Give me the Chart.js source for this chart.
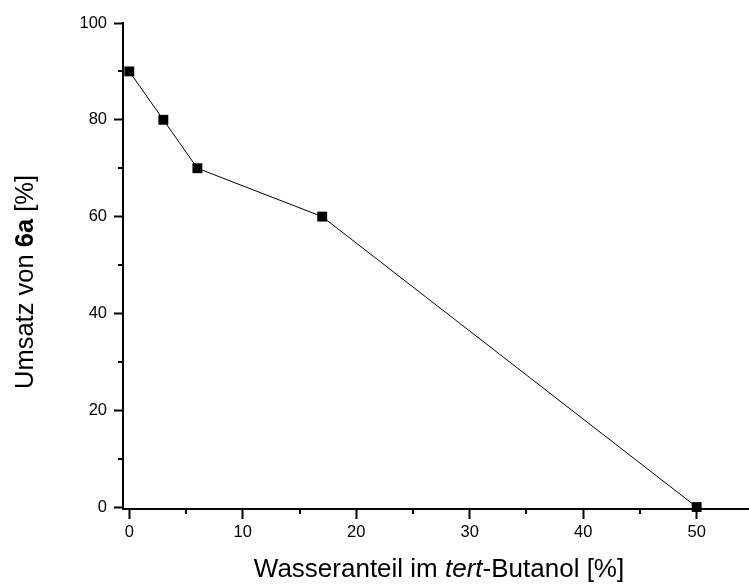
<!DOCTYPE html>
<html>
<head>
<meta charset="utf-8">
<script src="https://cdn.jsdelivr.net/npm/chart.js@4"></script>
<style>
html,body{margin:0;padding:0;background:#fff;}
#wrap{width:749px;height:586px;position:relative;}
</style>
</head>
<body>
<div id="wrap"><canvas id="c" width="749" height="586"></canvas></div>
<script>
// Data
const waterShare = [0, 3, 6, 17, 50];        // Wasseranteil im tert-Butanol [%]
const conversion = [90, 80, 70, 60, 0];      // Umsatz von 6a [%]
const xMajorTicks = [0, 10, 20, 30, 40, 50];
const xMinorTicks = [5, 15, 25, 35, 45];
const yMajorTicks = [0, 20, 40, 60, 80, 100];
const yMinorTicks = [10, 30, 50, 70, 90];
const xTitleParts = [["Wasseranteil im ", "normal"], ["tert", "italic"], ["-Butanol [%]", "normal"]];
const yTitleParts = [["Umsatz von ", "normal"], ["6a", "bold"], [" [%]", "normal"]];

const FONT = "'Liberation Sans', Arial, sans-serif";

function drawParts(ctx, parts, size) {
  let widths = parts.map(p => {
    ctx.font = (p[1] === 'italic' ? 'italic ' : p[1] === 'bold' ? 'bold ' : '') + size + 'px ' + FONT;
    return ctx.measureText(p[0]).width;
  });
  const total = widths.reduce((a, b) => a + b, 0);
  let x = -total / 2;
  parts.forEach((p, i) => {
    ctx.font = (p[1] === 'italic' ? 'italic ' : p[1] === 'bold' ? 'bold ' : '') + size + 'px ' + FONT;
    ctx.fillText(p[0], x, 0);
    x += widths[i];
  });
}

const extras = {
  id: 'extras',
  afterDraw(chart) {
    const ctx = chart.ctx;
    const xs = chart.scales.x, ys = chart.scales.y;
    const area = chart.chartArea;
    ctx.save();
    ctx.strokeStyle = '#000';
    ctx.lineWidth = 2;
    ctx.beginPath();
    xMinorTicks.forEach(v => {
      const px = Math.round(xs.getPixelForValue(v));
      ctx.moveTo(px, area.bottom);
      ctx.lineTo(px, area.bottom + 5);
    });
    yMinorTicks.forEach(v => {
      const py = Math.round(ys.getPixelForValue(v));
      ctx.moveTo(area.left, py);
      ctx.lineTo(area.left - 5, py);
    });
    ctx.stroke();
    // titles
    ctx.fillStyle = '#000';
    ctx.textBaseline = 'alphabetic';
    ctx.save();
    ctx.translate(439, 577);
    drawParts(ctx, xTitleParts, 26);
    ctx.restore();
    ctx.save();
    ctx.translate(33, 282);
    ctx.rotate(-Math.PI / 2);
    drawParts(ctx, yTitleParts, 25.5);
    ctx.restore();
    ctx.restore();
  }
};

new Chart(document.getElementById('c'), {
  type: 'scatter',
  data: {
    datasets: [{
      data: waterShare.map((x, i) => ({x: x, y: conversion[i]})),
      showLine: true,
      borderColor: '#000',
      borderWidth: 1,
      backgroundColor: '#000',
      pointStyle: 'rect',
      pointRadius: 7,
      pointHoverRadius: 7,
      pointBorderWidth: 0,
      clip: false
    }]
  },
  options: {
    responsive: false,
    animation: false,
    events: [],
    layout: {autoPadding: false, padding: {left: 0, right: 0, top: 23, bottom: 0}},
    plugins: {legend: {display: false}, tooltip: {enabled: false}},
    scales: {
      x: {
        type: 'linear',
        min: -0.555,
        max: 54.61,
        afterBuildTicks: s => { s.ticks = xMajorTicks.map(v => ({value: v})); },
        afterFit: s => { s.height = 77; s.paddingLeft = 0; s.paddingRight = 0; },
        border: {display: true, color: '#000', width: 2},
        grid: {display: true, drawOnChartArea: false, drawTicks: true, tickLength: 10, tickColor: '#000', tickWidth: 2},
        ticks: {color: '#000', font: {family: FONT, size: 16.5}, padding: 4, maxRotation: 0, autoSkip: false}
      },
      y: {
        type: 'linear',
        min: -0.4,
        max: 100,
        afterBuildTicks: s => { s.ticks = yMajorTicks.map(v => ({value: v})); },
        afterFit: s => { s.width = 123; s.paddingTop = 0; s.paddingBottom = 0; },
        border: {display: true, color: '#000', width: 2},
        grid: {display: true, drawOnChartArea: false, drawTicks: true, tickLength: 9, tickColor: '#000', tickWidth: 2},
        ticks: {color: '#000', font: {family: FONT, size: 16.5}, padding: 7, autoSkip: false}
      }
    }
  },
  plugins: [extras]
});
</script>
</body>
</html>
